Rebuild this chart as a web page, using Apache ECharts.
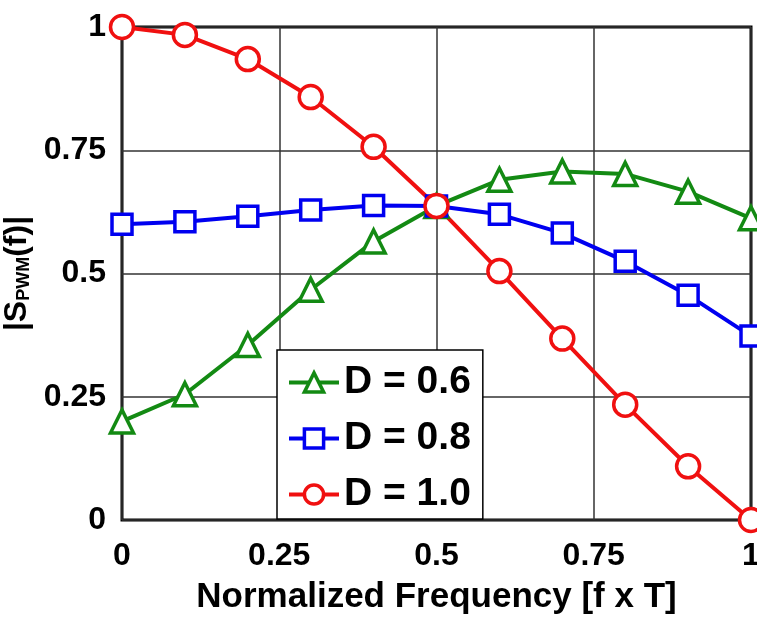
<!DOCTYPE html>
<html>
<head>
<meta charset="utf-8">
<script src="https://cdn.jsdelivr.net/npm/echarts@6/dist/echarts.min.js"></script>
<style>
  html, body { margin: 0; padding: 0; background: #fff; }
  #chart { width: 757px; height: 619px; }
</style>
</head>
<body>
<div id="chart"></div>
<script>
// Normalized frequency samples (f x T)
const freq = [0, 0.1, 0.2, 0.3, 0.4, 0.5, 0.6, 0.7, 0.8, 0.9, 1.0];
// |S_PWM(f)| for each duty cycle
const d06 = [0.20, 0.255, 0.355, 0.467, 0.565, 0.637, 0.69, 0.707, 0.702, 0.666, 0.612];
const d08 = [0.60, 0.605, 0.616, 0.629, 0.638, 0.637, 0.62, 0.582, 0.525, 0.456, 0.373];
const d10 = [1.00, 0.984, 0.935, 0.858, 0.757, 0.637, 0.505, 0.368, 0.234, 0.109, 0.0];
const seriesNames = ['D = 0.6', 'D = 0.8', 'D = 1.0'];
const yTicks = [0, 0.25, 0.5, 0.75, 1];

const pairs = ys => freq.map((f, i) => [f, ys[i]]);
const font = 'Liberation Sans, Arial, sans-serif';

function lineSeries(name, ys, color, symbol, size) {
  return {
    name, type: 'line', data: pairs(ys),
    symbol, symbolSize: size,
    lineStyle: { color, width: 4 },
    itemStyle: { color: '#fff', borderColor: color, borderWidth: 3.5 },
    emphasis: { disabled: true },
    animation: false
  };
}

const chart = echarts.init(document.getElementById('chart'));
chart.setOption({
  backgroundColor: '#fff',
  grid: {
    left: 122, right: 6, top: 27, bottom: 99,
    outerBoundsMode: 'none',
    containLabel: false,
    show: true, borderColor: '#000', borderWidth: 3, backgroundColor: 'transparent'
  },
  xAxis: {
    type: 'value', min: 0, max: 1, interval: 0.25,
    name: 'Normalized Frequency [f x T]',
    nameLocation: 'middle', nameGap: 60,
    nameTextStyle: { fontFamily: font, fontWeight: 'bold', fontSize: 35, color: '#000' },
    axisLine: { show: false },
    axisTick: { show: false },
    axisLabel: {
      margin: 20, fontFamily: font, fontWeight: 'bold', fontSize: 32, color: '#000',
      formatter: v => String(v)
    },
    splitLine: { show: true, lineStyle: { color: '#333', width: 1.5 } }
  },
  yAxis: {
    type: 'value', min: 0, max: 1, interval: 0.25,
    name: '|S{sub|PWM}(f)|',
    nameLocation: 'middle', nameGap: 88, nameRotate: 90,
    nameTextStyle: {
      fontFamily: font, fontWeight: 'bold', fontSize: 32, color: '#000',
      rich: { sub: { fontFamily: font, fontWeight: 'bold', fontSize: 18, color: '#000', verticalAlign: 'bottom', padding: [12, 0, 0, 0] } }
    },
    axisLine: { show: false },
    axisTick: { show: false },
    axisLabel: {
      margin: 16, fontFamily: font, fontWeight: 'bold', fontSize: 32, color: '#000',
      formatter: v => yTicks.includes(v) ? String(v) : ''
    },
    splitLine: { show: true, lineStyle: { color: '#333', width: 1.5 } }
  },
  legend: {
    data: seriesNames,
    orient: 'vertical',
    left: 277, top: 350,
    padding: [13, 12, 5, 10],
    itemGap: 17,
    itemWidth: 50, itemHeight: 24,
    backgroundColor: '#fff',
    borderColor: '#000', borderWidth: 1.5,
    lineStyle: { width: 4 },
    itemStyle: { borderWidth: 3.5 },
    textStyle: { fontFamily: font, fontWeight: 'bold', fontSize: 39, color: '#000' }
  },
  series: [
    lineSeries(seriesNames[0], d06, '#138a13', 'triangle', 23),
    lineSeries(seriesNames[1], d08, '#0000f0', 'rect', 20),
    lineSeries(seriesNames[2], d10, '#f01010', 'circle', 23)
  ]
});
</script>
</body>
</html>
